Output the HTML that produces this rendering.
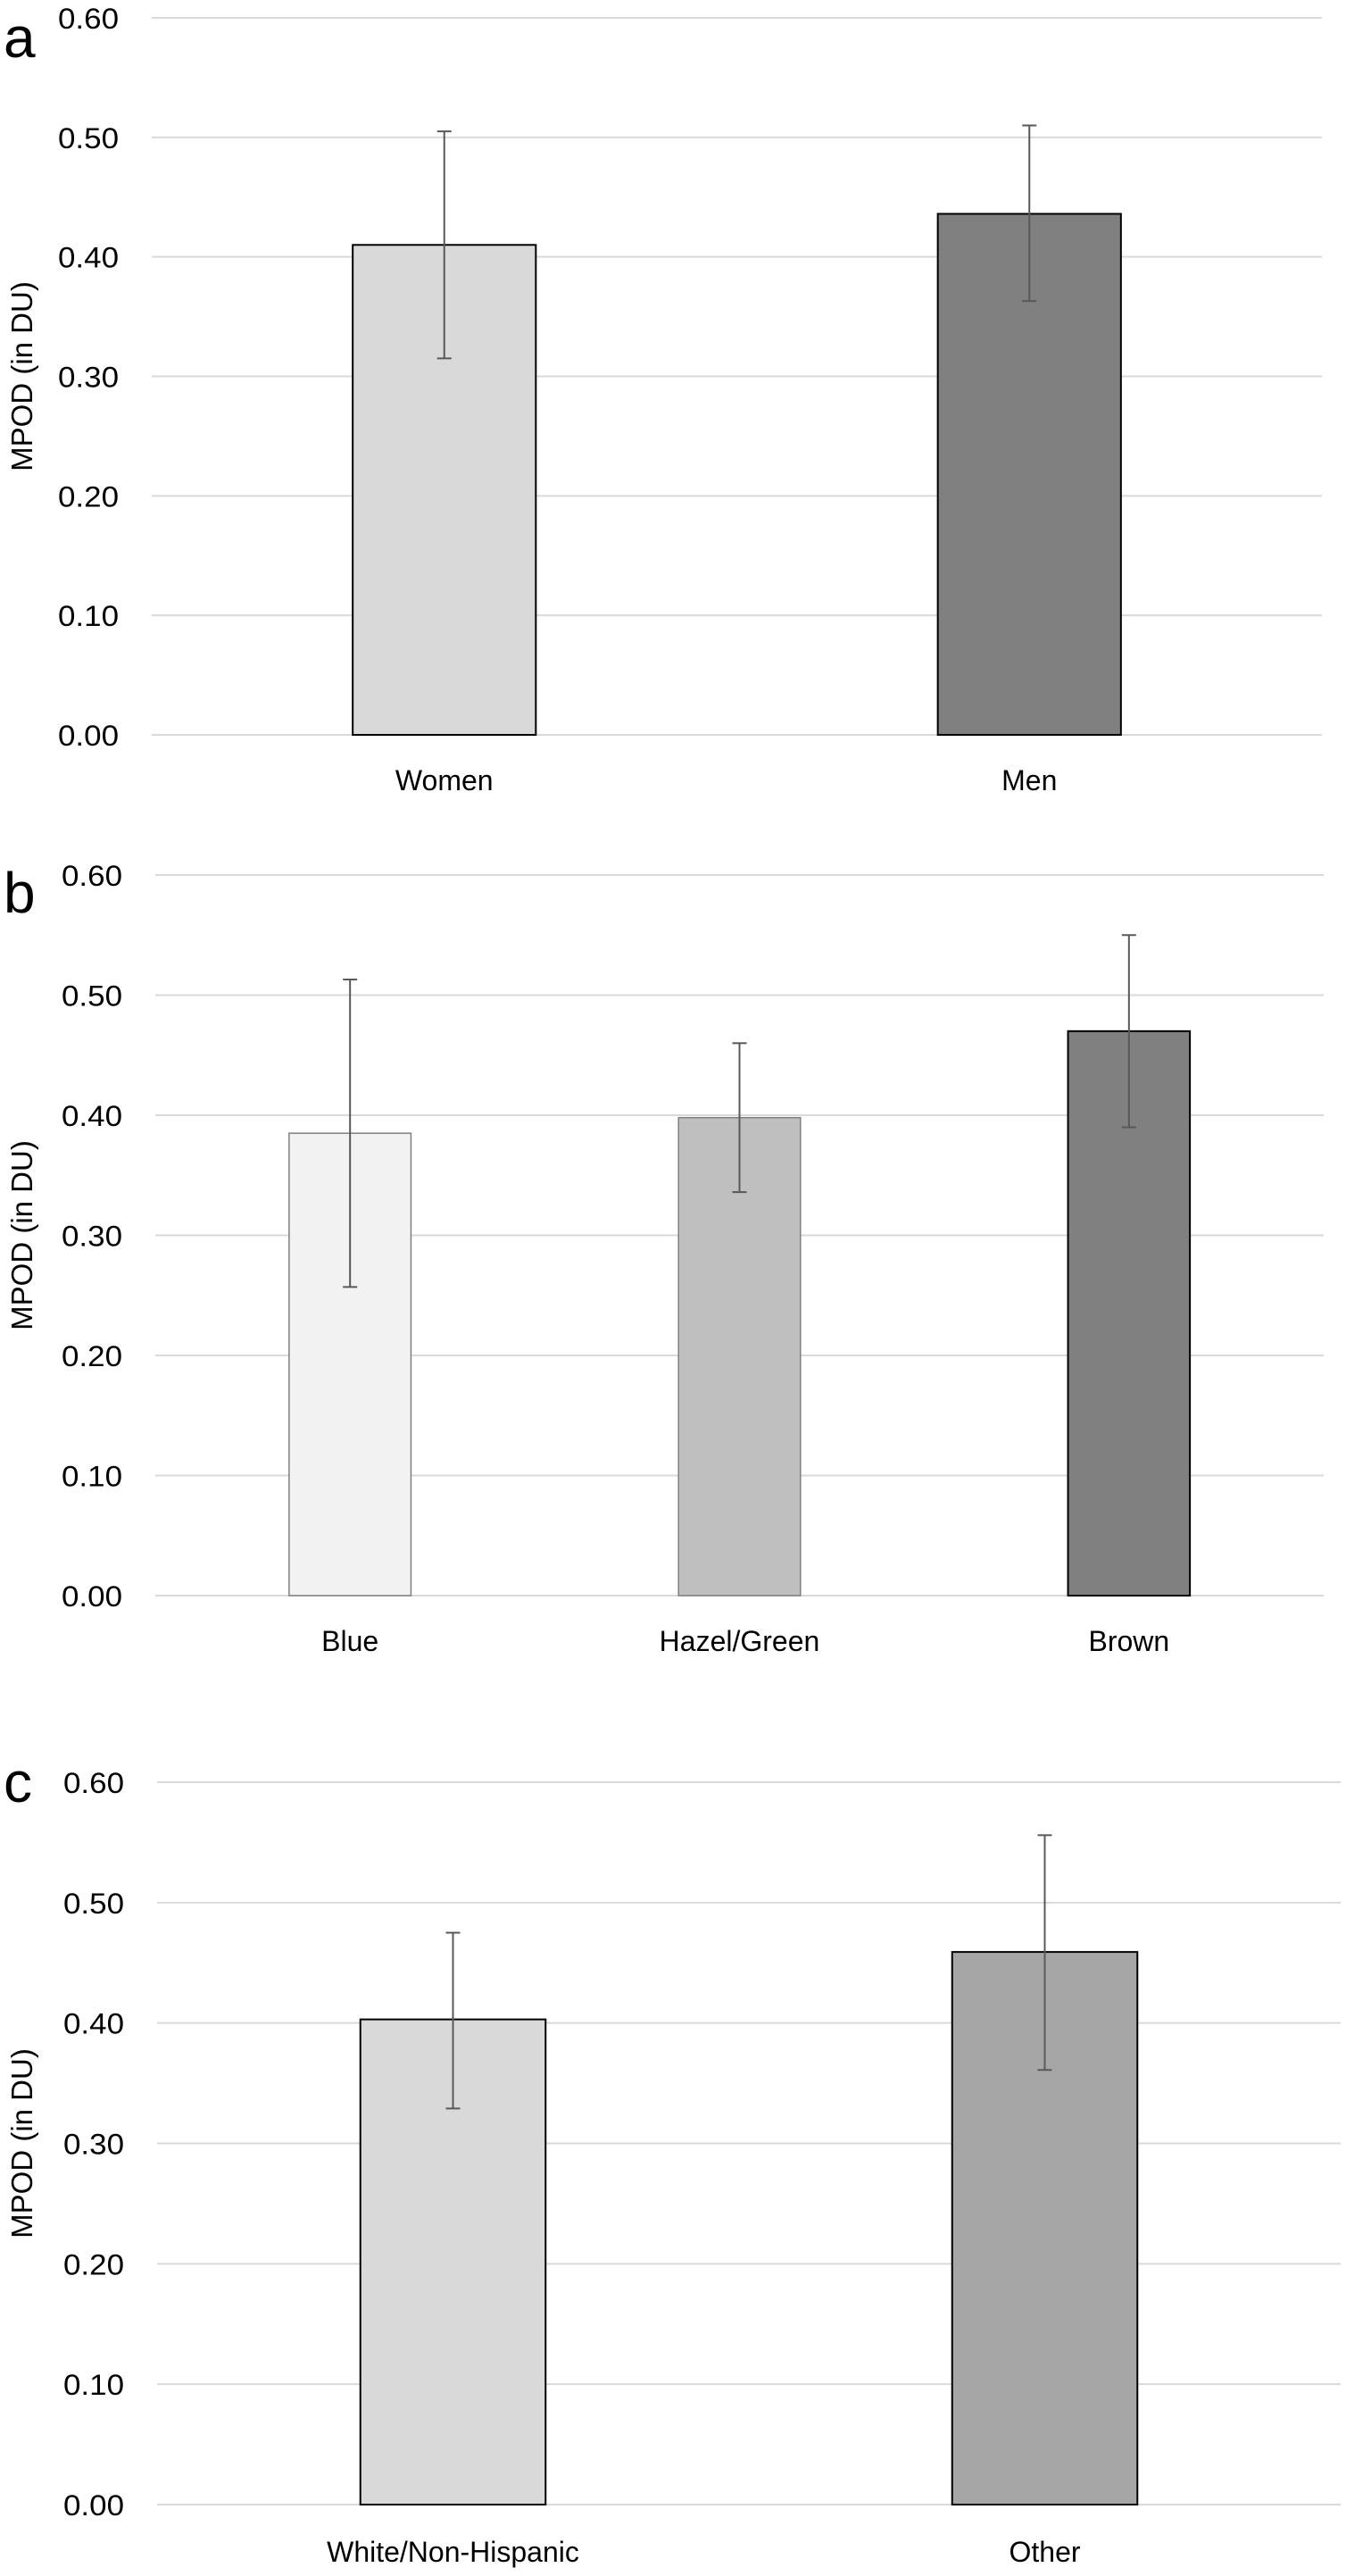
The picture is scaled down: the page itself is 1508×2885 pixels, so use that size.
<!DOCTYPE html>
<html><head><meta charset="utf-8"><style>
html,body{margin:0;padding:0;background:#fff;}
svg text{font-family:"Liberation Sans",sans-serif;}
</style></head><body>
<svg id="fig" width="1508" height="2880" viewBox="0 0 1508 2880" xmlns="http://www.w3.org/2000/svg"></svg>
<script>
const ticks = [0, 0.1, 0.2, 0.3, 0.4, 0.5, 0.6];
const tickLabels = ["0.00","0.10","0.20","0.30","0.40","0.50","0.60"];
const catsA = ["Women", "Men"];
const valsA = [0.410, 0.436];
const lowA = [0.315, 0.363];
const highA = [0.505, 0.510];
const catsB = ["Blue", "Hazel/Green", "Brown"];
const valsB = [0.385, 0.398, 0.470];
const lowB = [0.257, 0.336, 0.390];
const highB = [0.513, 0.460, 0.550];
const catsC = ["White/Non-Hispanic", "Other"];
const valsC = [0.403, 0.459];
const lowC = [0.329, 0.361];
const highC = [0.475, 0.556];

const NS = "http://www.w3.org/2000/svg";
const svg = document.getElementById('fig');
function mk(tag, attrs, parent, text){
  const e = document.createElementNS(NS, tag);
  for (const k in attrs) e.setAttribute(k, attrs[k]);
  if (text !== undefined) e.textContent = text;
  parent.appendChild(e);
  return e;
}
const panels = [
  {id:'a', cats:catsA, vals:valsA, low:lowA, high:highA, x0:170, x1:1481, yTop:20, yBot:823, labY:885, letterY:64,
   fills:['#d9d9d9','#808080'], strokes:['#000','#000'], sw:[2,2]},
  {id:'b', cats:catsB, vals:valsB, low:lowB, high:highB, x0:174, x1:1483, yTop:980, yBot:1787, labY:1849, letterY:1022,
   fills:['#f2f2f2','#bfbfbf','#808080'], strokes:['#7f7f7f','#7f7f7f','#000'], sw:[1.5,1.5,2]},
  {id:'c', cats:catsC, vals:valsC, low:lowC, high:highC, x0:176, x1:1502, yTop:1996, yBot:2805, labY:2869, letterY:2018,
   fills:['#d9d9d9','#a6a6a6'], strokes:['#000','#000'], sw:[2,2]}
];
panels.forEach(p => {
  const g = mk('g', {}, svg);
  
  
  const y = v => p.yBot - (v / 0.6) * (p.yBot - p.yTop);
  const band = (p.x1 - p.x0) / p.cats.length;
  const xc = i => p.x0 + band * (i + 0.5);
  const bw = band * 0.313;
  ticks.forEach((t, i) => {
    const l = mk('line', {x1:p.x0, x2:p.x1, y1:y(t), y2:y(t), stroke:'#d9d9d9', 'stroke-width':2}, g);
    
    
    const tx = mk('text', {x:p.x0 - 37, y:y(t) + 12, 'font-size':32, 'text-anchor':'end', fill:'#000', textLength:68, lengthAdjust:'spacingAndGlyphs'}, g, tickLabels[i]);
    
    
  });
  const my = (p.yTop + p.yBot) / 2;
  const yt = mk('text', {x:0, y:0, 'font-size':33, 'text-anchor':'middle', fill:'#000', transform:`translate(36 ${my}) rotate(-90)`}, g, 'MPOD (in DU)');
  
  
  const lt = mk('text', {x:4, y:p.letterY, 'font-size':64, fill:'#000'}, g, p.id);
  
  
  p.cats.forEach((c, i) => {
    const r = mk('rect', {x:xc(i) - bw/2, y:y(p.vals[i]), width:bw, height:y(0) - y(p.vals[i]), fill:p.fills[i], stroke:p.strokes[i], 'stroke-width':p.sw[i]}, g);
    
    
    const eg = mk('g', {stroke:'#595959', 'stroke-width':2}, g);
    
    
    mk('line', {x1:xc(i), x2:xc(i), y1:y(p.high[i]), y2:y(p.low[i])}, eg);
    mk('line', {x1:xc(i) - 8, x2:xc(i) + 8, y1:y(p.high[i]), y2:y(p.high[i])}, eg);
    mk('line', {x1:xc(i) - 8, x2:xc(i) + 8, y1:y(p.low[i]), y2:y(p.low[i])}, eg);
    const cl = mk('text', {x:xc(i), y:p.labY, 'font-size':32, 'text-anchor':'middle', fill:'#000'}, g, c);
    
    
  });
});
</script>
</body></html>
